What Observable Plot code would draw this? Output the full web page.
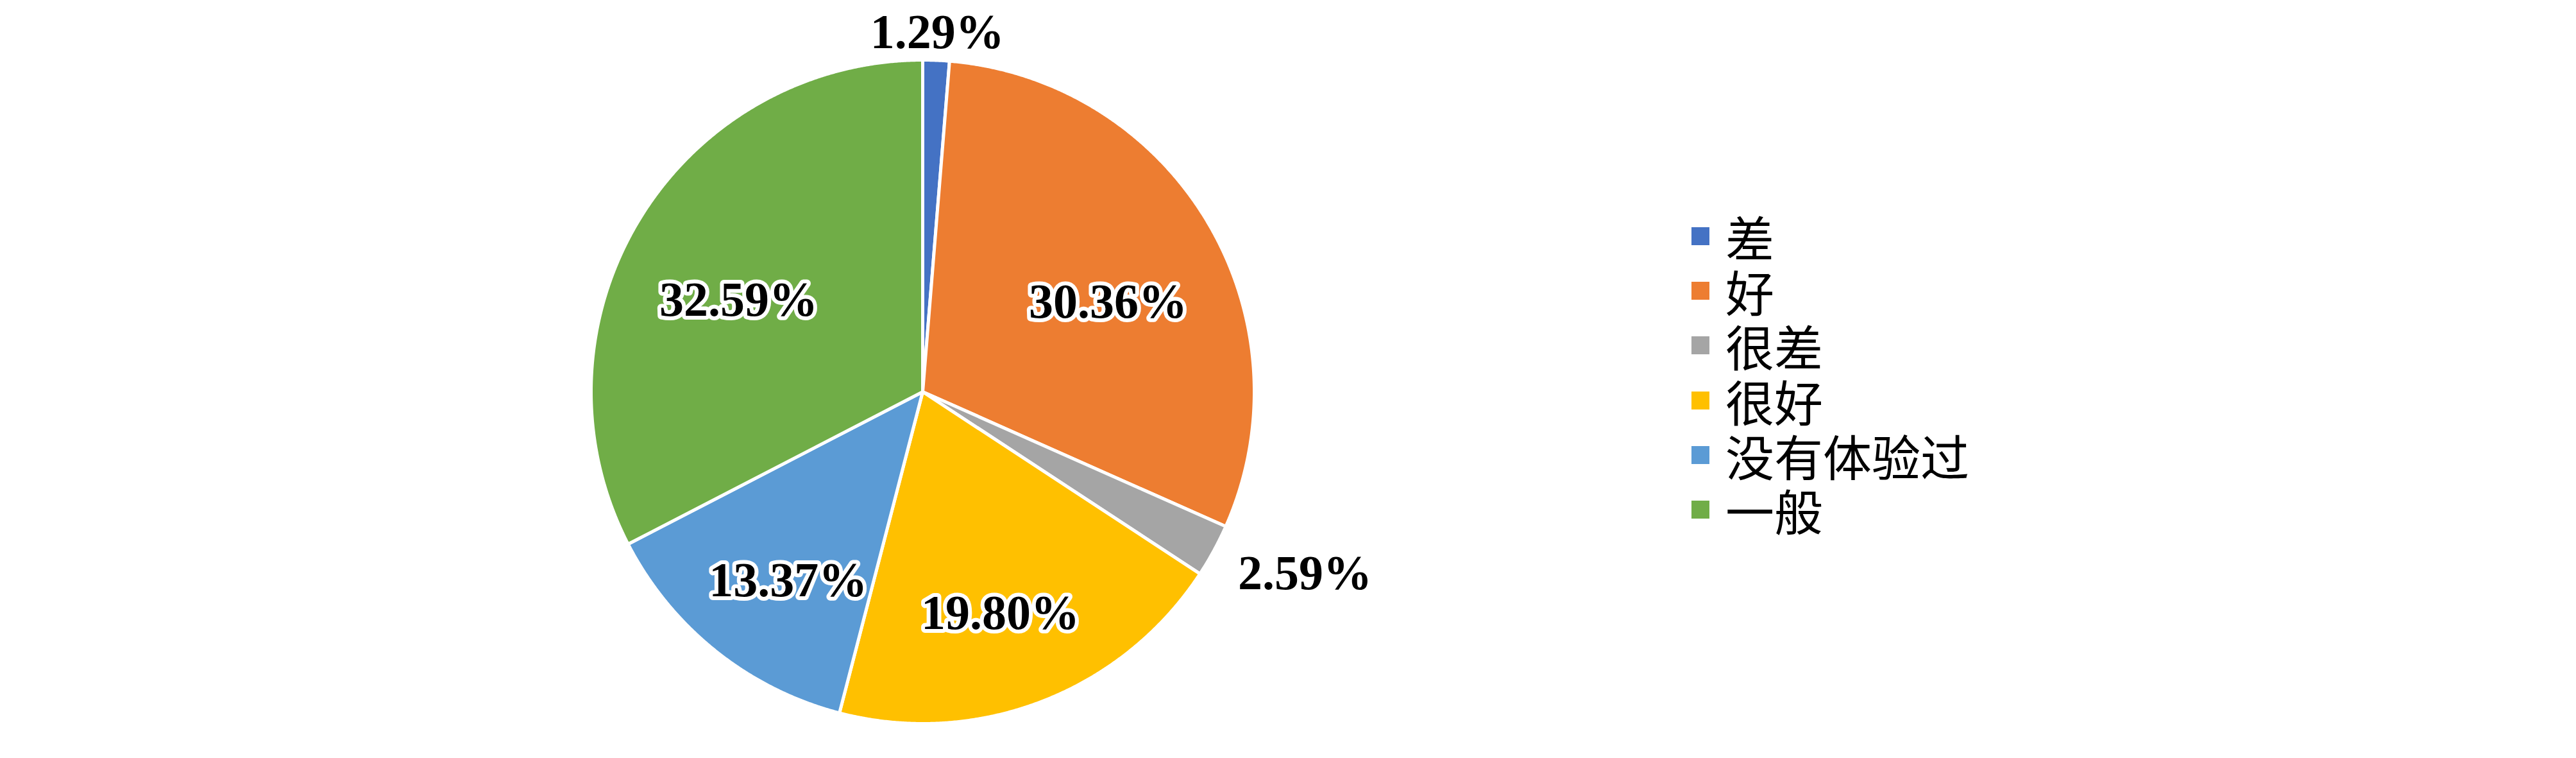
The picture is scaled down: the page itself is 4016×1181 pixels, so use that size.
<!DOCTYPE html>
<html>
<head>
<meta charset="utf-8">
<script src="https://cdn.jsdelivr.net/npm/d3@7"></script>
<script src="https://cdn.jsdelivr.net/npm/@observablehq/plot@0.6"></script>
<style>
  html, body { margin: 0; padding: 0; background: #fff; overflow: hidden; }
  #wrap { position: relative; width: 4016px; height: 1181px; }
  #legend { position: absolute; left: 2637px; top: 325px; font-family: "Liberation Sans", "Noto Sans CJK SC", sans-serif; font-size: 76px; color: #000; }
  .row { display: flex; align-items: center; height: 85.3px; }
  .sw { width: 28px; height: 28px; margin-right: 25px; flex: none; }
  .lb { line-height: 1; white-space: nowrap; position: relative; top: 7px; }
</style>
</head>
<body>
<div id="wrap"><div id="chart"></div><div id="legend"></div></div>
<script>
// ---- data ----
const categories = ["差", "好", "很差", "很好", "没有体验过", "一般"];
const values = [1.29, 30.36, 2.59, 19.80, 13.37, 32.59];
const colors = ["#4472C4", "#ED7D31", "#A5A5A5", "#FFC000", "#5B9BD5", "#70AD47"];

// ---- layout ----
const W = 4016, H = 1181;
const cx = 1438, cy = 610, r = 517;

const arcs = d3.pie().sort(null)(values);

// slice polygons (unit radius, angle 0 at top, clockwise)
const pts = [];
arcs.forEach((a, i) => {
  const cat = categories[i];
  pts.push({cat, x: 0, y: 0});
  const n = Math.max(2, Math.ceil((a.endAngle - a.startAngle) / 0.004));
  for (let k = 0; k <= n; k++) {
    const t = a.startAngle + (a.endAngle - a.startAngle) * k / n;
    pts.push({cat, x: Math.sin(t), y: Math.cos(t)});
  }
});

const inside = [], outStart = [], outMid = [], outEnd = [];
arcs.forEach((a, i) => {
  const mid = (a.startAngle + a.endAngle) / 2;
  const text = values[i].toFixed(2) + "%";
  if (values[i] >= 5) {
    inside.push({x: 0.65 * Math.sin(mid), y: 0.65 * Math.cos(mid), text});
  } else {
    const k = 1.083;
    const d = {x: k * Math.sin(mid), y: k * Math.cos(mid), text};
    const s = Math.sin(mid);
    if (s > 0.3) outStart.push(d); else if (s < -0.3) outEnd.push(d); else outMid.push(d);
  }
});

const labelStyle = {
  x: "x", y: "y", text: "text",
  fontSize: 76, fontWeight: "bold", fontFamily: "'Liberation Serif', 'Times New Roman', serif",
  fill: "black", stroke: "white", strokeWidth: 12
};

const chart = Plot.plot({
  width: W, height: H, margin: 0,
  x: {domain: [-cx / r, (W - cx) / r], axis: null},
  y: {domain: [-(H - cy) / r, cy / r], axis: null},
  color: {domain: categories, range: colors},
  marks: [
    Plot.line(pts, {x: "x", y: "y", z: "cat", fill: "cat", stroke: "white", strokeWidth: 5, curve: "linear-closed", strokeLinejoin: "round"}),
    Plot.text(inside, {...labelStyle, dy: 32}),
    Plot.text(outStart, {...labelStyle, textAnchor: "start", dy: 15}),
    Plot.text(outMid, {...labelStyle, textAnchor: "middle"}),
    Plot.text(outEnd, {...labelStyle, textAnchor: "end"})
  ]
});
document.getElementById("chart").appendChild(chart);

// legend
const lg = document.getElementById("legend");
categories.forEach((c, i) => {
  const row = document.createElement("div");
  row.className = "row";
  const sw = document.createElement("div");
  sw.className = "sw";
  sw.style.background = colors[i];
  const lb = document.createElement("div");
  lb.className = "lb";
  lb.textContent = c;
  row.appendChild(sw); row.appendChild(lb);
  lg.appendChild(row);
});
</script>
</body>
</html>
